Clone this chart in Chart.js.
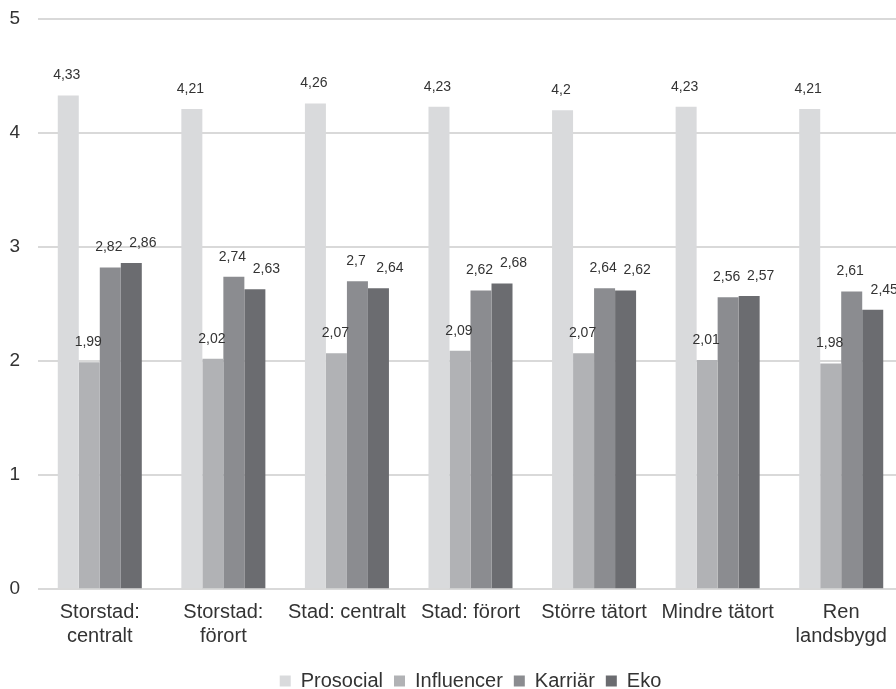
<!DOCTYPE html>
<html>
<head>
<meta charset="utf-8">
<script src="https://cdn.jsdelivr.net/npm/chart.js@4/dist/chart.umd.min.js"></script>
<style>
  html, body { margin: 0; padding: 0; background: #fff; overflow: hidden; }
  #wrap { position: relative; width: 903px; height: 701px; }
</style>
</head>
<body>
<div id="wrap"><canvas id="barChart"></canvas></div>
<script>
const categories = [
    ['Storstad:', 'centralt'],
    ['Storstad:', 'förort'],
    'Stad: centralt',
    'Stad: förort',
    'Större tätort',
    'Mindre tätort',
    ['Ren', 'landsbygd']
];
const prosocial  = [4.33, 4.21, 4.26, 4.23, 4.20, 4.23, 4.21];
const influencer = [1.99, 2.02, 2.07, 2.09, 2.07, 2.01, 1.98];
const karriar    = [2.82, 2.74, 2.70, 2.62, 2.64, 2.56, 2.61];
const eko        = [2.86, 2.63, 2.64, 2.68, 2.62, 2.57, 2.45];
const yTicks = [0, 1, 2, 3, 4, 5];

const FONT = "'Liberation Sans', Arial, sans-serif";
const TEXT = '#333333';

// value labels above the bars, with decimal comma
// (the last series' labels sit a bit to the right so they don't collide)
const labelShift = [-1.5, -1, -1.5, 11.5];
const valueLabels = {
    id: 'valueLabels',
    afterDatasetsDraw(chart) {
        const ctx = chart.ctx;
        ctx.save();
        ctx.font = '14px ' + FONT;
        ctx.fillStyle = TEXT;
        ctx.textAlign = 'center';
        ctx.textBaseline = 'middle';
        chart.data.datasets.forEach((ds, i) => {
            chart.getDatasetMeta(i).data.forEach((bar, j) => {
                const txt = String(ds.data[j]).replace('.', ',');
                ctx.fillText(txt, bar.x + labelShift[i], bar.y - 20);
            });
        });
        ctx.restore();
    }
};

const ctx = document.getElementById('barChart').getContext('2d');
new Chart(ctx, {
    type: 'bar',
    data: {
        labels: categories,
        datasets: [
            { label: 'Prosocial', data: prosocial, backgroundColor: '#d9dadc' },
            { label: 'Influencer', data: influencer, backgroundColor: '#b1b2b5' },
            { label: 'Karriär', data: karriar, backgroundColor: '#8b8c90' },
            { label: 'Eko', data: eko, backgroundColor: '#6b6c70' }
        ]
    },
    options: {
        responsive: true,
        maintainAspectRatio: false,
        animation: false,
        datasets: {
            bar: { categoryPercentage: 0.68, barPercentage: 1.0 }
        },
        layout: { padding: { top: 19, left: 0, right: 0, bottom: 0 } },
        plugins: {
            legend: {
                position: 'bottom',
                fullSize: false,
                labels: {
                    boxWidth: 11,
                    boxHeight: 11,
                    padding: 11,
                    color: TEXT,
                    font: { family: FONT, size: 20 }
                }
            },
            tooltip: { enabled: false }
        },
        scales: {
            x: {
                grid: { display: false, drawTicks: false },
                border: { display: false },
                afterFit: axis => { axis.paddingLeft = 0; axis.paddingRight = 0; },
                ticks: {
                    color: TEXT,
                    font: { family: FONT, size: 20, lineHeight: 1.22 },
                    padding: 11,
                    maxRotation: 0,
                    autoSkip: false
                }
            },
            y: {
                min: 0,
                max: 5,
                afterBuildTicks: axis => { axis.ticks = yTicks.map(v => ({ value: v })); },
                afterFit: axis => { axis.width = 38; axis.paddingTop = 0; axis.paddingBottom = 0; },
                grid: { color: '#d9d9d9', lineWidth: 2, drawTicks: false },
                border: { display: false },
                ticks: {
                    color: TEXT,
                    font: { family: FONT, size: 19 },
                    padding: 18
                }
            }
        }
    },
    plugins: [valueLabels]
});
</script>
</body>
</html>
